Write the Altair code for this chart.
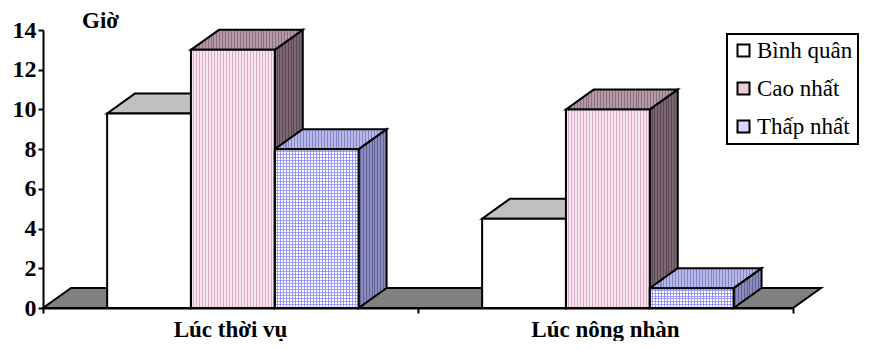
import altair as alt
import pandas as pd

# ---- data ----
categories = ["Lúc thời vụ", "Lúc nông nhàn"]
series = ["Bình quân", "Cao nhất", "Thấp nhất"]
binh_quan = [9.8, 4.5]
cao_nhat = [13.0, 10.0]
thap_nhat = [8.0, 1.0]
y_ticks = [0, 2, 4, 6, 8, 10, 12, 14]
y_title = "Giờ"

# ---- geometry / style ----
W, H = 750, 278
Y_MAX = 14
DEPTH_X_PX, DEPTH_Y_PX = 28, 20
DX = DEPTH_X_PX / (W / len(categories))
DY = DEPTH_Y_PX / (H / Y_MAX)
GAP, BW = 0.171, 0.2235
FONT = "'Liberation Serif', 'Times New Roman', serif"

values = {"Bình quân": binh_quan, "Cao nhất": cao_nhat, "Thấp nhất": thap_nhat}

bar_rows, side_rows, top_rows = [], [], []
for ci, cat in enumerate(categories):
    for k, s in enumerate(series):
        v = values[s][ci]
        x0 = ci + GAP + k * BW
        x1 = x0 + BW
        bid = f"{ci}-{k}"
        bar_rows.append(dict(id=bid, cat=cat, series=s, value=v, x0=x0, x1=x1, base=0))
        side_rows += [dict(id=bid, series=s, xs=x1, ya=v, yb=0),
                      dict(id=bid, series=s, xs=x1 + DX, ya=v + DY, yb=DY)]
        top_rows += [dict(id=bid, series=s, ys=v, xa=x0, xb=x1),
                     dict(id=bid, series=s, ys=v + DY, xa=x0 + DX, xb=x1 + DX)]
bars = pd.DataFrame(bar_rows)
sides = pd.DataFrame(side_rows)
tops = pd.DataFrame(top_rows)
n_cat = len(categories)
floor = pd.DataFrame([dict(ys=0, xa=0, xb=n_cat), dict(ys=DY, xa=DX, xb=n_cat + DX)])
cat_df = pd.DataFrame(dict(cat=categories, xc=[i + 0.5 for i in range(n_cat)]))

xs = alt.Scale(domain=[0, n_cat], nice=False, zero=False)
ys = alt.Scale(domain=[0, Y_MAX], nice=False, zero=True)

Y_AXIS = alt.Axis(
    values=y_ticks, title=y_title, titleAngle=0, titleAlign="center", titleX=57, titleY=-3,
    titleBaseline="alphabetic", titleFont=FONT, titleFontSize=23, titleFontWeight="bold",
    titleColor="black", labelFont=FONT, labelFontSize=24, labelFontWeight="bold",
    labelColor="black", labelPadding=2, domainColor="black", domainWidth=2,
    tickColor="black", tickWidth=2, tickSize=5, grid=False)
X_AXIS = alt.Axis(
    values=list(range(n_cat + 1)), labels=False, title="", domainColor="black",
    domainWidth=2, tickColor="black", tickWidth=2, tickSize=5, grid=False)


def X(field):
    return alt.X(field, scale=xs, axis=X_AXIS, title="")


def Y(field):
    return alt.Y(field, scale=ys, axis=Y_AXIS, title=y_title)


def stripes(base, line, n, direction="v", line_frac=0.35):
    stops = []
    for i in range(n):
        a = i / n
        b = (i + 1 - line_frac) / n
        c = (i + 1) / n
        stops += [{"offset": round(a, 5), "color": base}, {"offset": round(b, 5), "color": base},
                  {"offset": round(b, 5), "color": line}, {"offset": round(c, 5), "color": line}]
    g = {"gradient": "linear", "stops": stops}
    if direction == "v":
        g.update(x1=0, y1=0, x2=1, y2=0)
    else:
        g.update(x1=0, y1=0, x2=0, y2=1)
    return g


side_fill = {
    "Bình quân": "#c8c8c8",
    "Cao nhất": stripes("#7c6672", "#5c4854", 10),
    "Thấp nhất": stripes("#8c8cbc", "#62629c", 10),
}
top_fill = {
    "Bình quân": "#c0c0c0",
    "Cao nhất": stripes("#b49aa8", "#8c7080", 38),
    "Thấp nhất": stripes("#b8b8e8", "#8484c8", 38),
}
front_fill = {
    "Cao nhất": stripes("#f8e6f0", "#dcaac4", 28),
    "Thấp nhất": stripes("#ffffff", "#9c9cff", 28),
}
legend_range = ["#ffffff", "#eccadb", "#d6d6ff"]

layers = []

# floor
layers.append(
    alt.Chart(floor).mark_area(orient="horizontal", fill="#808080", stroke="black", strokeWidth=2)
    .encode(y=Y("ys:Q"), x=X("xa:Q"), x2="xb:Q")
)

# side faces
for s in series:
    layers.append(
        alt.Chart(sides).transform_filter(alt.datum.series == s)
        .mark_area(orient="vertical", fill=side_fill[s], stroke="black", strokeWidth=2)
        .encode(x=X("xs:Q"), y=Y("ya:Q"), y2="yb:Q", detail="id:N")
    )

# top faces
for s in series:
    layers.append(
        alt.Chart(tops).transform_filter(alt.datum.series == s)
        .mark_area(orient="horizontal", fill=top_fill[s], stroke="black", strokeWidth=2)
        .encode(y=Y("ys:Q"), x=X("xa:Q"), x2="xb:Q", detail="id:N")
    )

# front faces: base (legend)
layers.append(
    alt.Chart(bars).mark_rect()
    .encode(
        x=X("x0:Q"), x2="x1:Q", y=Y("value:Q"), y2="base:Q",
        color=alt.Color("series:N", scale=alt.Scale(domain=series, range=legend_range),
                        legend=alt.Legend(title=None, orient="none", legendX=684, legendY=4,
                                          strokeColor="black", padding=5, symbolType="square",
                                          symbolSize=144, symbolStrokeColor="black",
                                          symbolStrokeWidth=2, labelFont=FONT, labelFontSize=23,
                                          labelColor="black", rowPadding=14, labelOffset=2,
                                          labelLimit=300)),
    )
)

# front textures
for s, g in front_fill.items():
    layers.append(
        alt.Chart(bars).transform_filter(alt.datum.series == s)
        .mark_rect(fill=g)
        .encode(x=X("x0:Q"), x2="x1:Q", y=Y("value:Q"), y2="base:Q")
    )
# horizontal grid lines on the low series
for _, r in bars[bars.series == series[2]].iterrows():
    n_h = max(2, int(round(r.value * H / Y_MAX / 3)))
    layers.append(
        alt.Chart(bars).transform_filter(alt.datum.id == r.id)
        .mark_rect(fill=stripes("rgba(255,255,255,0)", "rgba(140,140,255,0.8)", n_h, "h"))
        .encode(x=X("x0:Q"), x2="x1:Q", y=Y("value:Q"), y2="base:Q")
    )

# front outlines
layers.append(
    alt.Chart(bars).mark_rect(fillOpacity=0, stroke="black", strokeWidth=2)
    .encode(x=X("x0:Q"), x2="x1:Q", y=Y("value:Q"), y2="base:Q")
)

# category labels
layers.append(
    alt.Chart(cat_df).mark_text(font=FONT, fontSize=23, fontWeight="bold", color="black",
                                baseline="middle", align="center")
    .encode(x=X("xc:Q"), y=alt.value(H + 22), text="cat:N")
)

chart = (
    alt.layer(*layers)
    .properties(width=W, height=H, autosize=alt.AutoSizeParams(type="none"),
                padding={"left": 35, "top": 22, "right": 68, "bottom": 33})
    .configure_view(stroke=None)
    .configure_legend(strokeWidth=2)
)

chart.save("out.html", embed_options={"renderer": "svg", "actions": False})
